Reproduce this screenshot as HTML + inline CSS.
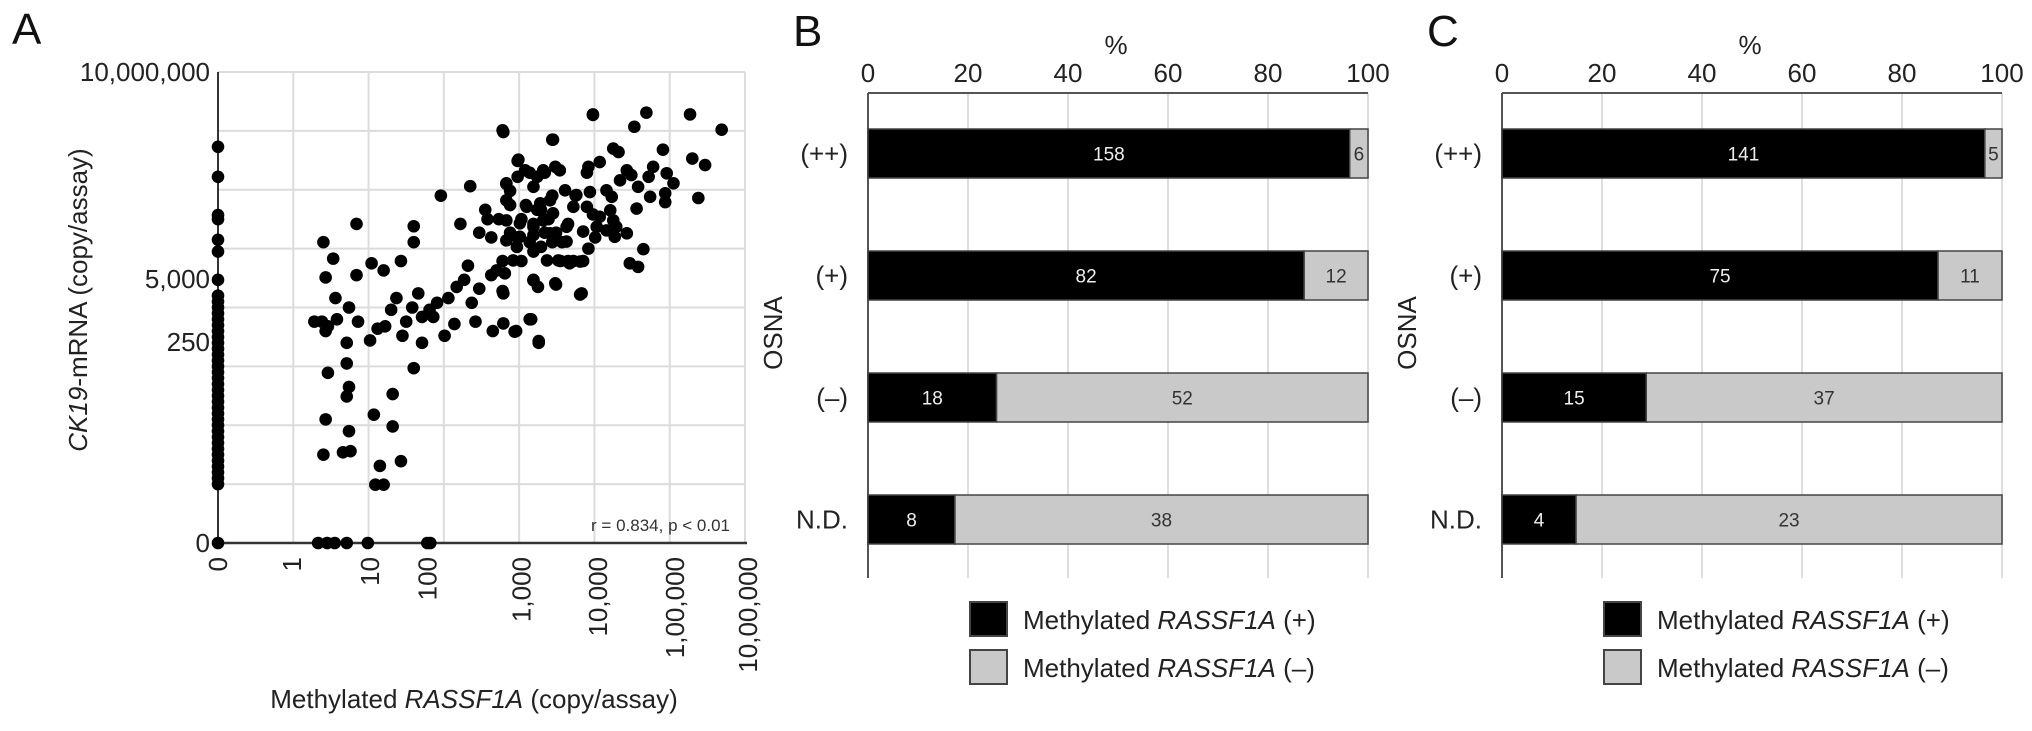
<!DOCTYPE html>
<html><head><meta charset="utf-8">
<style>
html,body{margin:0;padding:0;background:#fff;}
svg{display:block;font-family:"Liberation Sans",Arial,sans-serif;}
</style></head>
<body>
<svg id="fig" width="2032" height="731" viewBox="0 0 2032 731" xmlns="http://www.w3.org/2000/svg"></svg>
<script>
// ---------- Panel A data (axis units: x grid 0..7, y grid 0..8) ----------
const xTickLabels = ["0","1","10","100","1,000","10,000","1,00,000","10,00,000"];
const xTickPos = [0,0.98,2.02,2.78,4.03,5.05,6.07,7.04];
const yTickLabels = ["10,000,000","5,000","250","0"];
const yTickPos = [8,4.48,3.41,0];
const zeroColY = [6.73,6.22,5.57,5.5,5.15,4.95,4.47,4.2,4.1,4.0,3.9,3.8,3.7,3.6,3.5,3.4,3.3,3.2,3.1,3.0,2.9,2.8,2.7,2.6,2.5,2.4,2.3,2.2,2.1,2.0,1.9,1.8,1.7,1.6,1.5,1.4,1.3,1.2,1.1,1.0,0];
const zeroRowX = [1.33,1.45,1.55,1.71,1.99,2.78,2.82];
const scatterX = [1.40,1.53,1.43,1.56,1.28,1.38,1.46,1.43,1.58,1.74,1.71,1.86,1.84,1.84,2.02,2.04,2.20,2.12,2.22,2.30,2.37,2.43,2.45,2.50,2.60,2.60,2.58,2.66,2.71,2.71,2.81,2.86,2.91,2.96,3.01,3.06,3.14,3.17,3.22,3.27,3.35,3.32,3.37,3.42,3.47,3.55,3.63,3.63,3.65,3.70,3.78,3.78,3.78,3.83,3.88,3.96,3.98,3.98,4.03,4.14,4.16,4.19,4.24,4.26,4.29,4.34,4.39,4.44,4.44,4.49,4.49,4.55,4.65,4.75,4.83,4.85,4.90,4.98,4.98,5.01,
1.46,1.43,1.40,1.71,1.74,1.71,1.74,1.66,1.76,2.07,2.32,2.32,2.43,2.15,2.09,2.20,2.60,
3.88,4.03,4.09,4.19,4.29,3.88,3.73,3.47,3.58,3.98,4.24,4.34,4.57,4.65,4.72,4.14,4.44,
4.98,5.69,6.27,6.69,5.53,3.79,4.45,5.25,5.32,5.91,6.30,6.47,3.99,4.08,4.32,4.48,4.54,4.92,5.07,5.43,5.49,5.78,5.72,5.96,6.05,4.19,3.83,4.61,4.76,4.94,5.16,5.23,5.34,5.58,5.74,5.94,5.94,6.38,5.56,3.83,4.10,4.28,4.41,4.45,4.72,4.90,5.07,5.21,5.25,3.83,4.01,4.19,4.32,4.41,4.63,4.85,5.03,5.16,5.29,5.43,5.27,4.63,4.92,5.65,3.83,4.01,4.19,3.97,3.92,4.19,4.37,4.52,4.67,4.81,5.47,5.58,4.19,4.25,4.48,4.81,3.79,3.79,3.94,4.14,4.26,3.81];
const scatterY = [5.11,4.83,4.51,4.16,3.76,3.76,3.68,3.60,3.80,4.00,3.40,3.76,4.55,5.42,3.44,4.75,4.63,3.64,3.68,3.96,4.16,4.79,3.52,3.76,5.11,5.38,4.00,4.24,3.84,3.40,3.96,3.84,4.08,5.90,3.52,4.16,3.72,4.35,5.42,4.47,6.06,4.71,4.08,3.76,4.32,5.66,5.19,4.55,3.60,4.63,4.79,4.28,7.01,6.10,5.74,3.60,6.49,5.19,4.79,6.29,3.80,4.47,5.66,3.40,5.03,6.29,5.50,6.85,5.90,4.39,5.27,4.79,5.42,5.90,4.24,4.79,6.29,7.28,5.58,5.19,
2.89,2.10,1.50,3.05,2.65,2.49,1.90,1.54,1.56,2.18,2.53,1.98,1.39,1.31,0.99,0.99,2.97,
5.98,5.50,5.74,5.42,5.66,5.27,5.50,5.27,5.50,6.22,6.22,5.27,5.11,4.79,4.79,5.11,5.11,
7.27,7.31,7.28,7.02,7.07,6.98,6.85,6.70,6.64,6.68,6.53,6.42,6.51,6.33,6.33,6.39,6.33,6.39,6.47,6.33,6.25,6.39,6.22,6.28,6.11,6.05,6.11,5.99,5.91,5.96,5.99,5.88,6.16,6.05,5.88,5.94,5.79,5.86,5.68,5.82,5.71,5.77,5.82,5.60,5.71,5.71,5.54,5.65,5.48,5.48,5.43,5.37,5.48,5.26,5.37,5.29,5.37,5.31,5.37,5.26,5.20,5.12,5.00,4.99,5.14,5.20,5.23,5.03,4.80,4.95,4.80,4.80,4.75,4.78,4.75,4.69,4.46,4.35,4.41,4.22,4.24,3.73,3.59,3.80,3.43,4.58];

// ---------- Panels B & C data ----------
const categories = ["(++)","(+)","(\u2013)","N.D."];
const pctTicks = [0,20,40,60,80,100];
const bPos = [158,82,18,8];
const bNeg = [6,12,52,38];
const cPos = [141,75,15,4];
const cNeg = [5,11,37,23];

const NS = "http://www.w3.org/2000/svg";
const svg = document.getElementById("fig");
function mk(tag, attrs, parent, text){
  const e = document.createElementNS(NS, tag);
  for (const k in attrs) e.setAttribute(k, attrs[k]);
  if (text !== undefined) e.textContent = text;
  (parent||svg).appendChild(e);
  return e;
}

// ---------- Panel A ----------
const A = {x0:218, x1:745, y0:543, y1:72};
const ax = u => A.x0 + u*(A.x1-A.x0)/7;
const ay = u => A.y0 - u*(A.y0-A.y1)/8;
const gA = mk("g",{});


let t = mk("text",{x:12,y:44,"font-size":44,fill:"#111"},gA,"A");


for (let i=0;i<=8;i++){
  const l = mk("line",{x1:A.x0,x2:A.x1,y1:ay(i),y2:ay(i),stroke:"#dcdcdc","stroke-width":2},gA);
  
  
}
for (let i=1;i<=7;i++){
  const l = mk("line",{x1:ax(i),x2:ax(i),y1:A.y1,y2:A.y0,stroke:"#dcdcdc","stroke-width":2},gA);
  
  
}
let axl = mk("line",{x1:A.x0,x2:A.x0,y1:A.y1,y2:A.y0,stroke:"#333","stroke-width":2},gA);


axl = mk("line",{x1:A.x0,x2:A.x1+2,y1:A.y0,y2:A.y0,stroke:"#333","stroke-width":2.5},gA);


yTickLabels.forEach((s,i)=>{
  const e = mk("text",{x:210,y:ay(yTickPos[i])+9,"font-size":26,"text-anchor":"end",fill:"#222"},gA,s);
  
  
});
xTickLabels.forEach((s,i)=>{
  const x = ax(xTickPos[i]);
  const e = mk("text",{x:0,y:0,"font-size":26,"text-anchor":"end",fill:"#222",transform:`translate(${x+9},557) rotate(-90)`},gA,s);
  
  
});
const drawDot = (ux,uy)=>{
  const c = mk("circle",{cx:ax(ux),cy:ay(uy),r:6.3,fill:"#000"},gA);
  
  
};
zeroColY.forEach(v=>drawDot(0,v));
zeroRowX.forEach(v=>drawDot(v,0));
scatterX.forEach((v,i)=>drawDot(v,scatterY[i]));
t = mk("text",{x:730,y:531,"font-size":17,"text-anchor":"end",fill:"#333"},gA,"r = 0.834, p < 0.01");


t = mk("text",{x:0,y:0,"font-size":26,"text-anchor":"middle",fill:"#222",transform:"translate(87,300) rotate(-90)"},gA);


mk("tspan",{"font-style":"italic"},t,"CK19");
mk("tspan",{},t,"-mRNA (copy/assay)");
t = mk("text",{x:474,y:708,"font-size":26,"text-anchor":"middle",fill:"#222"},gA);


mk("tspan",{},t,"Methylated ");
mk("tspan",{"font-style":"italic"},t,"RASSF1A");
mk("tspan",{},t," (copy/assay)");

// ---------- Bar panels ----------
function barPanel(name, letter, left, pos, neg){
  const g = mk("g",{});
  
  
  const W = 500, top = 93, bottom = 578, barTop0 = 129, step = 122, bh = 49;
  const px = p => left + p*W/100;
  let e = mk("text",{x:left-75,y:46,"font-size":44,fill:"#111"},g,letter);
  
  
  e = mk("text",{x:px(50)-2,y:54,"font-size":26,"text-anchor":"middle",fill:"#222"},g,"%");
  
  
  pctTicks.forEach(p=>{
    if (p>0){
      const l = mk("line",{x1:px(p),x2:px(p),y1:top,y2:bottom,stroke:"#dedede","stroke-width":2},g);
      
      
    }
    const tx = mk("text",{x:px(p),y:82,"font-size":26,"text-anchor":"middle",fill:"#222"},g,String(p));
    
    
  });
  e = mk("line",{x1:left,x2:px(100),y1:top,y2:top,stroke:"#555","stroke-width":2},g);
  
  
  e = mk("line",{x1:left,x2:left,y1:top,y2:bottom,stroke:"#555","stroke-width":2},g);
  
  
  e = mk("text",{x:0,y:0,"font-size":26,"text-anchor":"middle",fill:"#222",transform:`translate(${left-86},333) rotate(-90)`},g,"OSNA");
  
  
  categories.forEach((c,i)=>{
    const y = barTop0 + i*step;
    const tot = pos[i]+neg[i];
    const pp = pos[i]/tot*100;
    const lab = mk("text",{x:left-20,y:y+bh/2+9,"font-size":26,"text-anchor":"end",fill:"#222"},g,c);
    
    
    const r1 = mk("rect",{x:px(0),y:y,width:px(pp)-px(0),height:bh,fill:"#000",stroke:"#444","stroke-width":1.5},g);
    
    
    const r2 = mk("rect",{x:px(pp),y:y,width:px(100)-px(pp),height:bh,fill:"#c9c9c9",stroke:"#444","stroke-width":1.5},g);
    
    
    const v1 = mk("text",{x:(px(0)+px(pp))/2,y:y+bh/2+7,"font-size":19,"text-anchor":"middle",fill:"#eee"},g,String(pos[i]));
    
    
    const v2 = mk("text",{x:(px(pp)+px(100))/2,y:y+bh/2+7,"font-size":19,"text-anchor":"middle",fill:"#333"},g,String(neg[i]));
    
    
  });
  const lx = left + 102;
  [["#000","(+)",602],["#c9c9c9","(\u2013)",650]].forEach(([col,sgn,ly])=>{
    const b = mk("rect",{x:lx,y:ly,width:37,height:34,fill:col,stroke:"#444","stroke-width":2},g);
    
    
    const tx = mk("text",{x:lx+53,y:ly+27,"font-size":26,fill:"#222"},g);
    
    
    mk("tspan",{},tx,"Methylated ");
    mk("tspan",{"font-style":"italic"},tx,"RASSF1A");
    mk("tspan",{},tx," "+sgn);
  });
}
barPanel("panel-b-bar-chart","B",868,bPos,bNeg);
barPanel("panel-c-bar-chart","C",1502,cPos,cNeg);
</script>
</body></html>
